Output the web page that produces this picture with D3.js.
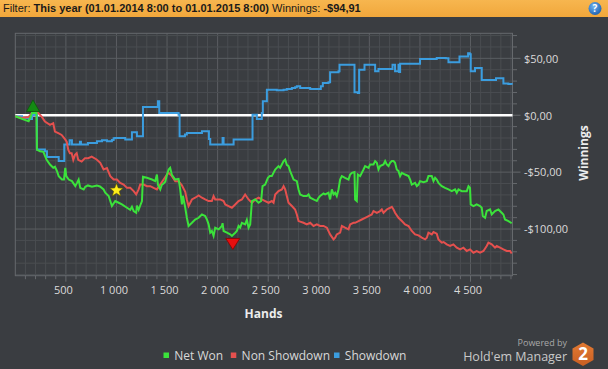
<!DOCTYPE html>
<html><head><meta charset="utf-8">
<script src="https://cdn.jsdelivr.net/npm/d3@7"></script>
<style>
html,body{margin:0;padding:0;background:#3a3d41;}
svg{display:block;font-family:"Open Sans",sans-serif;}
</style></head><body>
<svg id="chart" width="608" height="369"></svg>
<script>
// ---------- DATA (hands, $) ----------
const netWon = [[0,-0.9],[66,-3.2],[132,-5.3],[148,-2.4],[165,2.0],[209,2.0],[214,-30.2],[244,-31.6],[277,-32.2],[310,-39.2],[343,-43.3],[375,-46.2],[392,-45.3],[412,-49.1],[429,-53.5],[461,-56.5],[481,-56.5],[494,-46.2],[504,-53.5],[528,-56.5],[560,-57.9],[593,-62.3],[610,-59.4],[626,-56.5],[642,-63.8],[676,-65.2],[692,-62.9],[718,-61.7],[758,-62.9],[807,-61.7],[837,-62.6],[873,-65.2],[889,-68.1],[923,-71.0],[939,-75.4],[955,-79.8],[988,-75.4],[1022,-76.9],[1054,-78.4],[1104,-81.3],[1136,-83.1],[1153,-80.4],[1170,-84.2],[1195,-85.7],[1202,-79.5],[1219,-83.1],[1235,-79.3],[1252,-75.4],[1262,-54.1],[1301,-55.0],[1351,-56.5],[1383,-57.9],[1400,-52.1],[1410,-61.1],[1433,-65.2],[1449,-61.1],[1466,-60.0],[1482,-58.5],[1499,-52.4],[1516,-47.7],[1531,-46.2],[1548,-52.4],[1581,-56.5],[1614,-55.9],[1630,-65.2],[1647,-78.4],[1657,-70.8],[1680,-81.3],[1696,-90.1],[1713,-97.3],[1746,-94.5],[1778,-91.6],[1812,-90.1],[1845,-87.2],[1877,-88.6],[1894,-91.6],[1911,-95.9],[1927,-103.2],[1943,-101.7],[1960,-106.1],[1976,-98.8],[2010,-100.3],[2042,-97.3],[2049,-94.9],[2059,-101.7],[2092,-103.2],[2124,-104.7],[2141,-106.1],[2174,-103.2],[2190,-101.7],[2207,-97.3],[2223,-98.8],[2240,-94.5],[2272,-95.9],[2289,-91.8],[2306,-98.8],[2322,-95.9],[2339,-75.4],[2371,-74.0],[2405,-76.9],[2430,-75.4],[2444,-62.3],[2470,-60.9],[2497,-55.0],[2516,-53.5],[2536,-53.5],[2569,-47.7],[2602,-44.7],[2618,-46.2],[2635,-43.3],[2652,-40.3],[2668,-38.9],[2684,-43.6],[2701,-44.7],[2717,-49.1],[2751,-56.5],[2783,-57.9],[2800,-65.2],[2816,-69.6],[2849,-71.0],[2882,-71.0],[2899,-69.6],[2915,-72.5],[2948,-74.0],[2981,-75.4],[2998,-72.5],[3013,-71.0],[3047,-68.8],[3063,-69.6],[3096,-68.1],[3112,-74.0],[3129,-65.2],[3146,-69.6],[3162,-68.1],[3178,-71.0],[3195,-65.2],[3211,-56.5],[3228,-53.5],[3260,-55.0],[3294,-56.5],[3310,-52.1],[3327,-50.6],[3353,-50.0],[3359,-74.0],[3376,-75.4],[3386,-52.1],[3409,-53.5],[3442,-47.7],[3458,-44.7],[3492,-46.2],[3507,-43.3],[3541,-43.3],[3557,-40.3],[3574,-41.8],[3590,-47.7],[3606,-44.7],[3640,-43.3],[3656,-40.3],[3672,-43.3],[3689,-44.7],[3705,-41.8],[3722,-40.3],[3739,-40.3],[3754,-41.8],[3771,-47.7],[3788,-49.1],[3804,-53.5],[3821,-50.6],[3853,-52.1],[3887,-53.5],[3903,-56.5],[3919,-60.9],[3952,-59.4],[3969,-62.3],[3986,-60.9],[4001,-57.9],[4035,-58.8],[4068,-57.9],[4084,-53.5],[4117,-53.5],[4134,-57.9],[4150,-55.0],[4166,-56.5],[4183,-59.4],[4216,-62.3],[4248,-63.8],[4282,-65.2],[4315,-66.7],[4347,-65.2],[4364,-68.1],[4381,-65.2],[4413,-66.7],[4463,-66.7],[4480,-62.3],[4495,-63.8],[4502,-78.4],[4529,-79.8],[4561,-78.4],[4594,-79.8],[4611,-81.3],[4621,-88.6],[4644,-90.1],[4660,-84.2],[4693,-82.8],[4710,-87.2],[4742,-84.2],[4776,-82.8],[4808,-85.7],[4825,-87.2],[4841,-91.6],[4875,-93.0],[4907,-94.9]];

const nonShowdown = [[0,-0.9],[66,-2.4],[132,-1.5],[165,2.0],[205,2.3],[221,2.3],[261,-1.2],[293,-5.6],[343,-8.5],[375,-7.0],[392,-14.4],[425,-15.8],[458,-17.3],[491,-21.0],[508,-23.2],[524,-30.4],[540,-33.3],[557,-33.3],[573,-39.2],[590,-34.8],[607,-33.3],[622,-39.2],[656,-40.7],[689,-37.7],[721,-37.7],[755,-36.3],[804,-38.9],[840,-41.8],[873,-47.7],[906,-46.5],[939,-53.5],[972,-56.5],[1005,-56.5],[1037,-59.4],[1071,-60.9],[1104,-63.8],[1136,-63.8],[1170,-66.7],[1195,-69.6],[1219,-65.2],[1235,-60.9],[1269,-60.9],[1301,-62.3],[1334,-62.3],[1367,-63.8],[1400,-65.2],[1433,-60.9],[1466,-56.5],[1499,-52.1],[1516,-50.6],[1548,-53.5],[1581,-57.9],[1614,-57.9],[1647,-61.6],[1680,-67.3],[1696,-74.3],[1713,-79.8],[1746,-74.0],[1778,-72.5],[1812,-70.5],[1845,-72.5],[1877,-74.0],[1911,-75.4],[1943,-75.4],[1960,-71.0],[1976,-74.0],[2025,-74.0],[2059,-75.4],[2075,-78.4],[2108,-79.8],[2141,-81.3],[2174,-78.4],[2207,-75.4],[2240,-74.0],[2272,-69.6],[2306,-74.0],[2339,-76.9],[2371,-74.0],[2405,-72.5],[2437,-74.0],[2470,-75.4],[2504,-76.9],[2536,-75.4],[2553,-76.9],[2569,-69.6],[2602,-66.7],[2635,-65.2],[2652,-62.3],[2668,-65.2],[2684,-71.0],[2701,-76.9],[2734,-79.8],[2766,-82.8],[2783,-87.2],[2800,-93.0],[2849,-94.5],[2882,-95.9],[2915,-94.5],[2948,-97.3],[2981,-95.9],[3013,-97.3],[3047,-97.3],[3080,-98.8],[3112,-104.7],[3146,-109.1],[3162,-107.6],[3178,-104.7],[3211,-103.2],[3228,-97.3],[3260,-98.8],[3294,-100.3],[3310,-95.9],[3343,-94.5],[3359,-94.5],[3393,-93.0],[3425,-91.6],[3458,-90.1],[3492,-88.6],[3524,-87.2],[3541,-84.2],[3574,-85.7],[3606,-84.2],[3623,-82.8],[3640,-85.7],[3672,-82.8],[3705,-81.3],[3722,-80.4],[3739,-82.8],[3754,-85.7],[3788,-90.1],[3821,-93.0],[3853,-95.9],[3887,-97.3],[3919,-101.7],[3952,-104.7],[3986,-105.6],[4018,-107.6],[4051,-109.1],[4068,-107.6],[4084,-103.2],[4117,-104.7],[4134,-102.6],[4166,-104.1],[4183,-109.1],[4216,-112.0],[4234,-111.4],[4265,-113.5],[4298,-114.9],[4331,-113.5],[4364,-116.4],[4397,-117.9],[4430,-116.4],[4463,-119.3],[4495,-117.9],[4529,-120.8],[4561,-119.3],[4594,-120.8],[4628,-119.3],[4660,-114.9],[4677,-112.0],[4710,-113.5],[4742,-116.4],[4759,-114.9],[4792,-116.4],[4825,-117.9],[4858,-119.3],[4891,-119.3],[4907,-121.5]];

const showdown = [[0,-0.9],[66,-2.4],[132,-3.2],[165,0.3],[209,1.1],[214,-30.2],[293,-31.6],[313,-36.6],[412,-36.6],[429,-40.3],[481,-40.3],[484,-25.8],[521,-25.8],[537,-21.9],[560,-25.8],[629,-25.8],[639,-23.2],[649,-25.8],[718,-24.3],[807,-22.8],[857,-21.9],[906,-22.8],[955,-21.7],[972,-20.2],[988,-19.9],[1071,-19.9],[1087,-21.4],[1136,-21.4],[1153,-14.9],[1186,-14.9],[1202,-18.4],[1252,-18.4],[1262,7.3],[1400,7.3],[1410,12.3],[1423,2.0],[1598,2.0],[1614,0.5],[1624,-18.4],[1677,-17.0],[1696,-15.5],[1795,-15.5],[1845,-14.0],[1904,-14.0],[1914,-20.8],[1927,-25.8],[2035,-25.8],[2049,-19.9],[2059,-25.8],[2141,-25.8],[2158,-21.4],[2339,-21.4],[2345,0.5],[2378,0.5],[2388,-3.2],[2430,-3.2],[2437,2.0],[2447,12.3],[2470,12.3],[2487,22.5],[2569,22.5],[2585,21.9],[2652,22.5],[2684,23.1],[2734,23.9],[2766,24.6],[2783,25.4],[2816,23.9],[2915,23.1],[2998,23.1],[3020,25.4],[3040,28.3],[3096,28.9],[3112,37.7],[3195,38.6],[3205,44.4],[3346,44.4],[3353,20.2],[3386,19.6],[3399,40.0],[3425,40.0],[3452,44.4],[3544,44.4],[3557,38.6],[3590,40.6],[3722,40.6],[3729,44.4],[3748,44.4],[3754,38.6],[3788,44.4],[3794,38.0],[3804,45.3],[3986,45.3],[4001,49.4],[4166,50.3],[4255,50.0],[4282,46.5],[4384,46.5],[4391,51.7],[4463,51.7],[4476,54.4],[4492,53.5],[4502,38.6],[4531,38.6],[4544,41.5],[4594,41.5],[4611,31.0],[4742,31.0],[4752,32.4],[4808,32.4],[4825,27.9],[4874,27.4],[4907,26.8]];

const seriesNames = ["Net Won", "Non Showdown", "Showdown"];
const xTickValues = [500, 1000, 1500, 2000, 2500, 3000, 3500, 4000, 4500];
const yTickValues = [50, 0, -50, -100];
const markers = [
  {type: "up", hand: 175, value: 2.0},
  {type: "down", hand: 2150, value: -106.1},
  {type: "star", hand: 1000, value: -66.0}
];
const headerParts = ["Filter:", "This year (01.01.2014 8:00 to 01.01.2015 8:00)", "Winnings:", "-$94,91"];
const headerBold = [false, true, false, true];

// ---------- LAYOUT ----------
const colors = {"Net Won": "#3be23b", "Non Showdown": "#e5504e", "Showdown": "#3b9ddf"};
const svg = d3.select("#chart");
const W = 608, H = 369;
const plot = {left: 15.3, right: 512.5, top: 33.3, bottom: 275.7};

const x = d3.scaleLinear().domain([0, 4915]).range([plot.left, plot.right]);
const y = d3.scaleLinear().domain([-141, 72]).range([plot.bottom, plot.top]);

const locale = d3.formatLocale({decimal: ",", thousands: "\u00a0", grouping: [3], currency: ["$", ""], minus: "-"});
const fx = locale.format(",");
const fy = locale.format("$,.2f");

svg.append("rect").attr("width", W).attr("height", H).attr("fill", "#3a3d41");

// header
const defs = svg.append("defs");
const hg = defs.append("linearGradient").attr("id", "hdr").attr("x1", 0).attr("x2", 0).attr("y1", 0).attr("y2", 1);
hg.append("stop").attr("offset", 0).attr("stop-color", "#f7b64f");
hg.append("stop").attr("offset", 1).attr("stop-color", "#f1a73b");
svg.append("rect").attr("x", 0).attr("y", 0).attr("width", W).attr("height", 17).attr("fill", "url(#hdr)");
const ht = svg.append("text").attr("x", 3).attr("y", 12.3)
  .attr("font-family", "'Liberation Sans Narrow', 'Liberation Sans', Arial, sans-serif").attr("font-size", 11)
  .attr("fill", "#1a1a1a").attr("xml:space", "preserve");
headerParts.forEach((t, i) => {
  ht.append("tspan").attr("font-weight", headerBold[i] ? "bold" : "normal").text((i > 0 ? " " : "") + t);
});

const qg = defs.append("radialGradient").attr("id", "qg").attr("cx", 0.4).attr("cy", 0.35).attr("r", 0.7);
qg.append("stop").attr("offset", 0).attr("stop-color", "#6fb3f0");
qg.append("stop").attr("offset", 1).attr("stop-color", "#1c5fae");
svg.append("circle").attr("cx", 595).attr("cy", 8.5).attr("r", 6.5).attr("fill", "url(#qg)");
svg.append("text").attr("x", 595).attr("y", 12).attr("text-anchor", "middle").attr("font-size", 10).attr("font-weight", "bold").attr("fill", "#fff").text("?");

// grid
const g = svg.append("g");
const minorX = d3.range(100, 4915, 100);
const minorY = d3.range(-140, 72, 10);
g.selectAll(".gx").data(minorX).join("line")
  .attr("x1", d => x(d)).attr("x2", d => x(d)).attr("y1", plot.top).attr("y2", plot.bottom)
  .attr("stroke", d => d % 500 === 0 ? "#5b5e62" : "#4a4d51").attr("stroke-width", 1);
g.selectAll(".gy").data(minorY).join("line")
  .attr("x1", plot.left).attr("x2", plot.right).attr("y1", d => y(d)).attr("y2", d => y(d))
  .attr("stroke", d => d % 50 === 0 ? "#5b5e62" : "#4a4d51").attr("stroke-width", 1);
g.append("rect").attr("x", plot.left).attr("y", plot.top).attr("width", plot.right - plot.left).attr("height", plot.bottom - plot.top)
  .attr("fill", "none").attr("stroke", "#66696d").attr("stroke-width", 1);

// ticks bottom
g.selectAll(".tx").data(minorX).join("line")
  .attr("x1", d => x(d)).attr("x2", d => x(d)).attr("y1", plot.bottom).attr("y2", d => plot.bottom + (d % 500 === 0 ? 6 : 3.5))
  .attr("stroke", "#66696d");
// ticks right
g.selectAll(".ty").data(minorY).join("line")
  .attr("x1", plot.right).attr("x2", d => plot.right + (d % 50 === 0 ? 8 : 4.5)).attr("y1", d => y(d)).attr("y2", d => y(d))
  .attr("stroke", "#66696d");

// axes labels via d3 axes (domain/tick lines hidden)
const xAxis = d3.axisBottom(x).tickValues(xTickValues).tickFormat(fx).tickSize(0).tickPadding(0);
const xa = svg.append("g").attr("transform", `translate(-3,${plot.bottom + 18.5})`).call(xAxis);
xa.select(".domain").remove();
xa.selectAll("text").attr("font-family", "'Open Sans', sans-serif").attr("font-size", 11).attr("fill", "#dadada").attr("dy", "0");

const yAxis = d3.axisRight(y).tickValues(yTickValues).tickFormat(fy).tickSize(0).tickPadding(0);
const ya = svg.append("g").attr("transform", `translate(524,0)`).call(yAxis);
ya.select(".domain").remove();
ya.selectAll("text").attr("font-family", "'Open Sans', sans-serif").attr("font-size", 11).attr("fill", "#dadada").attr("dy", "0.35em");

svg.append("text").attr("x", 263.5).attr("y", 317.5).attr("text-anchor", "middle")
  .attr("font-size", 12).attr("font-weight", "bold").attr("fill", "#ececec").text("Hands");
svg.append("text").attr("transform", "translate(587.5,153) rotate(-90)").attr("text-anchor", "middle")
  .attr("font-size", 12).attr("font-weight", "bold").attr("fill", "#ececec").text("Winnings");

// zero line
svg.append("line").attr("x1", plot.left).attr("x2", plot.right).attr("y1", y(0)).attr("y2", y(0))
  .attr("stroke", "#ffffff").attr("stroke-width", 2.5);

// series
const lineLinear = d3.line().x(d => x(d[0])).y(d => y(d[1])).curve(d3.curveLinear);
const lineStep = d3.line().x(d => x(d[0])).y(d => y(d[1])).curve(d3.curveStepAfter);
const seriesData = {"Net Won": netWon, "Non Showdown": nonShowdown, "Showdown": showdown};
const drawOrder = ["Showdown", "Non Showdown", "Net Won"];
drawOrder.forEach(name => {
  svg.append("path").datum(seriesData[name])
    .attr("d", name === "Showdown" ? lineStep : lineLinear)
    .attr("fill", "none").attr("stroke", colors[name]).attr("stroke-width", 2)
    .attr("stroke-linejoin", "miter").attr("stroke-linecap", "butt");
});

// markers
function starPath(cx, cy, R, r) {
  const pts = [];
  for (let i = 0; i < 10; i++) {
    const a = -Math.PI / 2 + i * Math.PI / 5;
    const rr = i % 2 === 0 ? R : r;
    pts.push([cx + rr * Math.cos(a), cy + rr * Math.sin(a)]);
  }
  return "M" + pts.map(p => p.join(",")).join("L") + "Z";
}
markers.forEach(m => {
  const px = x(m.hand), py = y(m.value);
  if (m.type === "up") {
    const cy = py - 7;
    svg.append("path").attr("d", `M${px},${cy - 6}L${px + 6.5},${cy + 5.5}L${px - 6.5},${cy + 5.5}Z`)
      .attr("fill", "#138a13").attr("stroke", "#0b5a0b").attr("stroke-width", 0.8);
  } else if (m.type === "down") {
    const cy = py + 7.5;
    svg.append("path").attr("d", `M${px - 7},${cy - 5}L${px + 7},${cy - 5}L${px},${cy + 6}Z`)
      .attr("fill", "#e60f0f").attr("stroke", "#8a0000").attr("stroke-width", 0.8);
  } else {
    svg.append("path").attr("d", starPath(px, py, 7, 3))
      .attr("fill", "#ffee1a").attr("stroke", "#5a5000").attr("stroke-width", 0.6);
  }
});

// legend
const legendX = [163.5, 230.8, 334];
const leg = svg.append("g");
seriesNames.forEach((name, i) => {
  leg.append("rect").attr("x", legendX[i]).attr("y", 352.5).attr("width", 5.5).attr("height", 5.5).attr("fill", colors[name]);
  leg.append("text").attr("x", legendX[i] + 10.8).attr("y", 360).attr("font-size", 12).attr("fill", "#d8d8d8").text(name);
});

// branding
svg.append("text").attr("x", 567).attr("y", 345.5).attr("text-anchor", "end").attr("font-size", 9).attr("fill", "#a8a8a8").text("Powered by");
svg.append("text").attr("x", 567).attr("y", 361).attr("text-anchor", "end").attr("font-size", 12.5).attr("fill", "#c9c9c9").text("Hold'em Manager");
const lg = defs.append("linearGradient").attr("id", "logo").attr("x1", 0).attr("x2", 0).attr("y1", 0).attr("y2", 1);
lg.append("stop").attr("offset", 0).attr("stop-color", "#e27a33");
lg.append("stop").attr("offset", 1).attr("stop-color", "#c85e22");
const hx = 583, hy = 354;
svg.append("path").attr("d", `M${hx},${hy - 11.5}L${hx + 10.5},${hy - 5.5}L${hx + 10.5},${hy + 6}L${hx},${hy + 12}L${hx - 10.5},${hy + 6}L${hx - 10.5},${hy - 5.5}Z`)
  .attr("fill", "url(#logo)");
svg.append("text").attr("x", hx).attr("y", hy + 6).attr("text-anchor", "middle").attr("font-size", 17).attr("font-weight", "bold").attr("fill", "#ffffff").text("2");
</script>
</body></html>
